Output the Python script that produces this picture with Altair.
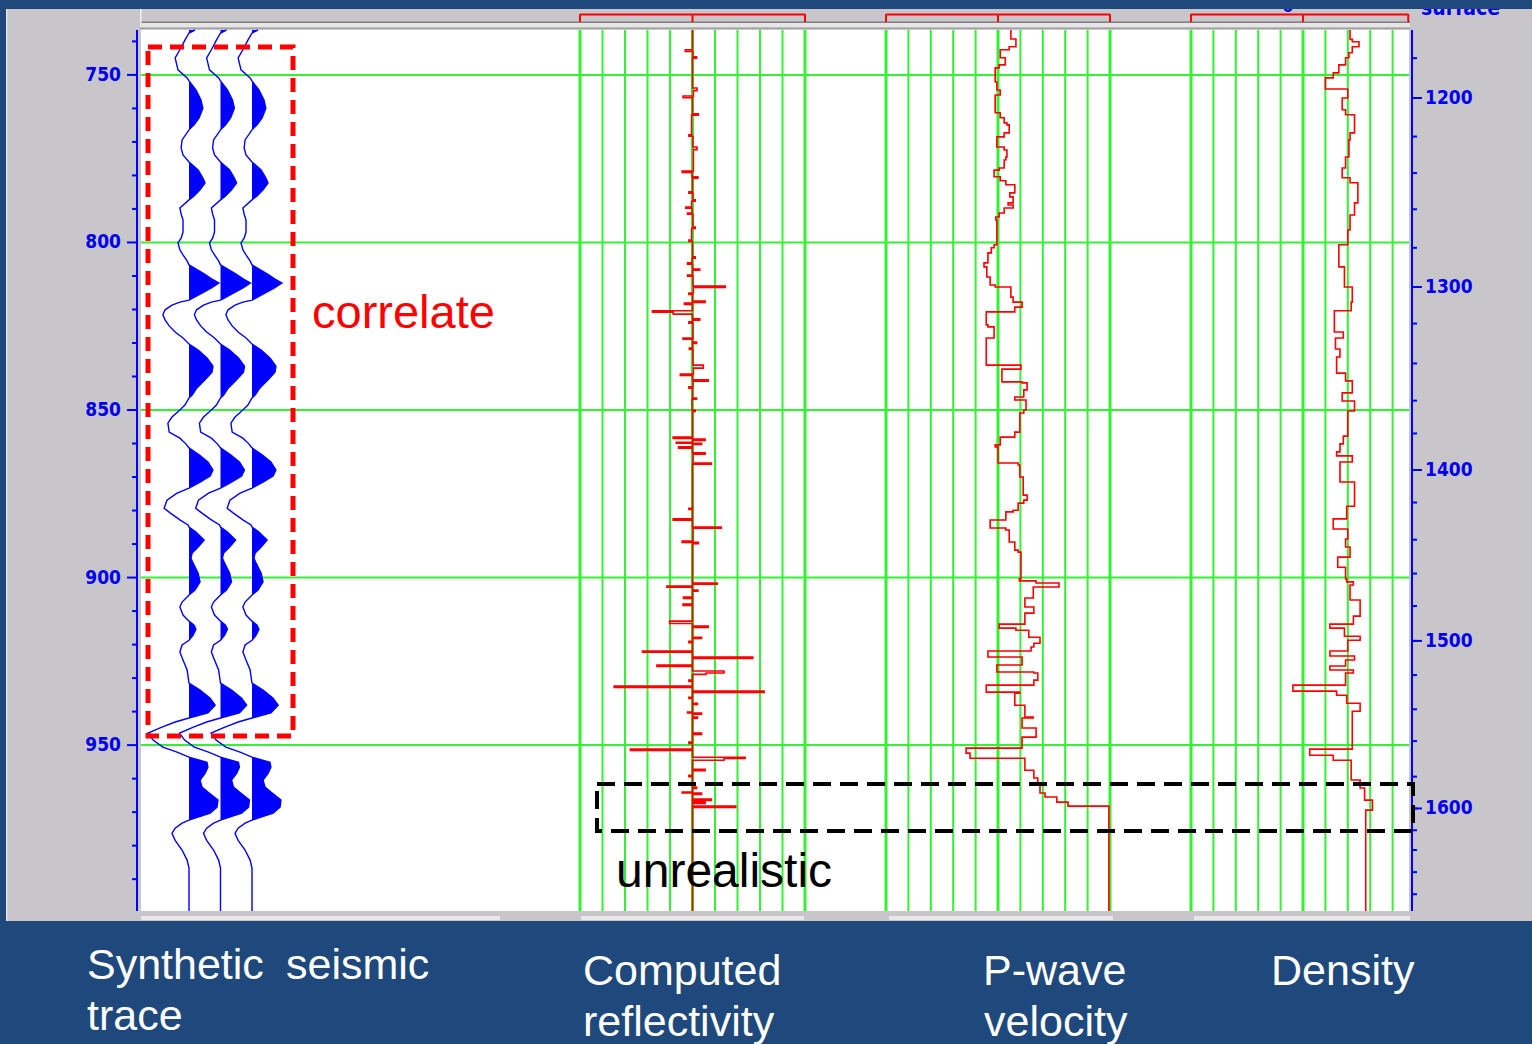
import altair as alt
import pandas as pd

# ------------------------------------------------------------------ data ---
# Synthetic seismic trace: two-way time (ms) and amplitude (1 = trace spacing)
seis_time = [
    736.6, 737.5, 739.6, 742.5, 744.9, 748.5, 750.9, 751.8, 754.5, 757.5,
    759.9, 762.8, 764.9, 766.4, 769.4, 771.8, 773.9, 776.0, 778.4, 780.8,
    782.2, 784.3, 786.1, 787.3, 789.7, 791.5, 793.3, 796.9, 798.7, 800.1,
    802.2, 803.7, 805.5, 806.7, 807.6, 809.4, 810.9, 812.1, 813.6, 815.4,
    816.9, 817.2, 817.8, 818.7, 820.1, 821.6, 823.1, 824.9, 826.7, 828.5,
    830.3, 832.1, 834.5, 836.9, 838.7, 841.0, 843.4, 845.5, 846.4, 848.5,
    850.0, 852.1, 853.9, 856.6, 858.4, 860.1, 861.3, 863.4, 865.5, 867.9,
    869.7, 871.5, 873.3, 874.8, 876.9, 879.3, 880.7, 882.8, 884.3, 884.9,
    886.4, 888.8, 890.9, 892.7, 894.2, 895.7, 898.7, 901.3, 903.7, 905.2,
    907.3, 908.8, 911.2, 913.0, 914.2, 915.4, 917.2, 918.7, 920.1, 922.2,
    924.6, 927.6, 931.5, 933.6, 936.0, 938.1, 940.4, 941.9, 943.1, 944.6,
    946.4, 948.5, 950.6, 952.1, 953.6, 955.1, 956.6, 958.4, 960.4, 962.5,
    964.0, 966.4, 968.5, 970.3, 971.8, 972.4, 973.3, 974.8, 976.3, 978.4,
    981.3, 984.3, 986.7, 999.5,
]
seis_amp = [
    0.19, 0.0, -0.13, -0.29, -0.44, -0.35, -0.06, 0.0, 0.22, 0.38,
    0.44, 0.32, 0.16, 0.0, -0.22, -0.25, -0.19, 0.0, 0.29, 0.44,
    0.51, 0.35, 0.16, 0.0, -0.29, -0.25, -0.19, -0.19, -0.25, -0.35,
    -0.29, -0.19, -0.06, 0.0, 0.16, 0.48, 0.73, 0.95, 0.70, 0.35,
    0.06, 0.0, -0.29, -0.54, -0.76, -0.83, -0.76, -0.63, -0.44, -0.19,
    0.0, 0.29, 0.57, 0.76, 0.73, 0.51, 0.25, 0.10, 0.0, -0.13,
    -0.29, -0.54, -0.67, -0.63, -0.29, -0.10, 0.0, 0.32, 0.60, 0.76,
    0.67, 0.35, 0.0, -0.38, -0.70, -0.79, -0.60, -0.29, -0.03, 0.0,
    0.22, 0.48, 0.29, 0.10, 0.06, 0.13, 0.29, 0.35, 0.19, 0.0,
    -0.22, -0.29, -0.19, 0.0, 0.16, 0.22, 0.13, 0.0, -0.22, -0.29,
    -0.19, -0.06, 0.0, 0.35, 0.67, 0.83, 0.60, 0.0, -0.44, -0.86,
    -1.30, -1.14, -0.83, -0.38, 0.0, 0.57, 0.60, 0.51, 0.35, 0.41,
    0.60, 0.92, 0.89, 0.67, 0.19, 0.0, -0.22, -0.44, -0.54, -0.44,
    -0.22, -0.06, 0.0, 0.0,
]
seis_traces = [0, 1, 2]

# Computed reflectivity, blocked: each coefficient holds from its time on
refl_time = [
    736.6, 742.5, 743.0, 744.6, 745.0, 753.9, 754.7, 756.3, 756.8, 761.6,
    762.0, 767.9, 768.3, 771.5, 772.3, 778.7, 779.1, 780.4, 780.8, 784.9,
    785.3, 787.3, 787.7, 789.4, 789.8, 791.2, 791.6, 795.4, 795.8, 799.3,
    799.7, 804.3, 804.7, 806.1, 806.5, 807.9, 808.3, 809.7, 810.1, 813.0,
    813.4, 815.1, 815.5, 817.5, 817.9, 818.1, 818.5, 820.4, 820.8, 821.4,
    822.8, 823.2, 823.7, 824.1, 828.5, 828.9, 829.7, 830.1, 831.5, 831.9,
    836.6, 837.5, 839.3, 839.7, 841.0, 841.4, 843.1, 843.5, 846.4, 846.8,
    850.0, 850.4, 858.1, 858.5, 858.7, 859.1, 859.6, 859.9, 860.3, 861.0,
    861.4, 862.8, 863.2, 865.8, 866.2, 879.3, 879.7, 882.5, 882.9, 884.9,
    885.3, 889.1, 889.5, 889.9, 901.6, 902.0, 902.5, 902.9, 903.7, 904.1,
    905.8, 906.2, 907.9, 908.3, 913.0, 913.7, 914.5, 914.9, 917.8, 918.2,
    919.0, 919.4, 921.9, 922.3, 923.7, 924.1, 926.1, 926.5, 927.9, 928.5,
    928.9, 930.6, 931.0, 932.4, 932.8, 933.9, 934.3, 935.7, 936.1, 937.5,
    937.9, 940.1, 940.4, 940.8, 941.6, 942.0, 946.4, 946.8, 949.1, 949.5,
    951.2, 951.6, 953.6, 954.0, 954.5, 957.2, 957.6, 959.0, 959.4, 962.5,
    962.9, 964.0, 964.3, 964.7, 966.1, 966.5, 967.0, 967.4, 968.2, 968.6,
    999.5,
]
refl_coef = [
    0.000, -0.016, 0.001, 0.009, 0.000, 0.010, 0.002, -0.021, 0.000, 0.013,
    -0.002, -0.008, 0.001, 0.010, 0.002, -0.023, -0.001, 0.012, 0.000, -0.008,
    0.001, 0.006, -0.002, -0.015, -0.001, -0.011, 0.001, 0.006, -0.002, -0.008,
    0.000, 0.006, -0.001, -0.011, 0.000, 0.016, 0.000, -0.011, 0.001, 0.073,
    0.002, -0.008, 0.000, 0.028, 0.000, -0.018, 0.000, -0.089, -0.043, 0.000,
    0.016, 0.000, -0.008, 0.001, -0.021, 0.000, 0.009, 0.000, -0.007, 0.001,
    0.024, 0.002, -0.027, 0.000, 0.035, 0.001, -0.008, 0.000, 0.009, -0.001,
    0.006, 0.000, -0.043, 0.000, 0.028, 0.000, -0.036, 0.020, 0.000, -0.031,
    0.000, 0.028, 0.001, 0.042, 0.000, -0.008, 0.000, -0.043, 0.000, 0.064,
    0.001, -0.023, 0.013, 0.000, 0.055, 0.000, -0.057, 0.000, 0.012, 0.000,
    -0.020, 0.000, -0.021, 0.000, -0.051, 0.000, 0.035, 0.000, 0.020, 0.000,
    -0.008, 0.000, -0.111, 0.000, 0.134, 0.000, -0.079, 0.000, 0.070, 0.030,
    0.000, -0.008, 0.000, -0.174, 0.000, 0.159, 0.000, -0.008, 0.000, 0.011,
    0.000, -0.011, 0.020, 0.000, 0.011, 0.000, 0.020, 0.000, -0.008, 0.000,
    -0.138, 0.000, 0.117, 0.070, 0.000, 0.028, 0.000, -0.008, 0.000, 0.009,
    0.000, -0.023, 0.020, 0.000, 0.042, 0.000, 0.028, 0.000, 0.096, 0.000,
    0.000,
]

# P-wave velocity log (m/s), blocked
vel_time = [
    736.6, 739.3, 741.6, 742.5, 744.9, 747.0, 747.9, 752.1, 754.5, 756.0,
    761.3, 762.8, 764.3, 764.9, 767.3, 768.5, 771.5, 772.4, 774.5, 775.4,
    777.8, 778.4, 780.4, 781.6, 782.8, 785.2, 786.4, 788.2, 788.8, 789.7,
    791.2, 792.4, 793.3, 800.7, 801.6, 803.1, 806.1, 807.3, 810.3, 812.7,
    813.3, 816.3, 817.8, 819.3, 820.7, 824.6, 825.2, 828.5, 836.6, 837.8,
    841.6, 841.9, 844.0, 846.1, 847.0, 850.0, 850.9, 856.6, 858.1, 860.4,
    861.0, 865.8, 866.4, 870.0, 875.4, 876.9, 877.8, 879.9, 880.4, 882.8,
    885.2, 885.8, 889.4, 891.8, 892.4, 900.4, 901.0, 901.6, 902.8, 906.1,
    908.8, 910.6, 913.9, 915.1, 915.7, 917.8, 919.6, 920.7, 921.9, 923.7,
    926.1, 928.2, 928.5, 930.6, 932.1, 934.2, 934.5, 938.1, 941.6, 941.9,
    944.9, 947.6, 950.9, 952.4, 953.9, 957.5, 959.8, 961.3, 964.3, 965.5,
    967.0, 968.2, 999.5,
]
vel_mps = [
    4230, 4320, 4200, 4040, 4130, 4020, 3950, 3980, 4040, 3950,
    4040, 4110, 4160, 4200, 4110, 3980, 4110, 4160, 4140, 4110,
    4020, 3930, 4040, 4140, 4300, 4210, 4270, 4180, 4270, 4110,
    4020, 3960, 3980, 3930, 3880, 3820, 3750, 3800, 3860, 3950,
    4230, 4270, 4430, 4300, 3790, 3820, 3930, 3790, 4410, 4070,
    4430, 4520, 4460, 4300, 4500, 4460, 4390, 4300, 4040, 3950,
    4000, 4360, 4390, 4450, 4520, 4460, 4360, 4270, 4140, 3860,
    4140, 4200, 4300, 4360, 4410, 4380, 4680, 5090, 4630, 4480,
    4640, 4480, 4020, 4320, 4550, 4750, 4640, 4590, 3820, 4430,
    3980, 4640, 4710, 4640, 3790, 4390, 4300, 4480, 4630, 4430,
    4680, 4430, 3430, 3500, 4480, 4640, 4710, 4750, 4840, 5050,
    5250, 5980, 5980,
]

# Bulk density log (g/cc), blocked
dens_time = [
    736.6, 739.4, 740.1, 741.6, 743.4, 744.9, 747.0, 749.4, 750.9, 754.2,
    756.9, 760.4, 761.9, 767.3, 769.4, 774.5, 777.8, 780.7, 782.2, 788.2,
    791.8, 796.3, 800.7, 807.3, 813.3, 817.8, 820.4, 826.7, 828.5, 831.8,
    834.2, 839.0, 841.3, 844.9, 847.3, 850.3, 857.8, 860.1, 862.5, 863.7,
    865.5, 871.5, 878.7, 882.5, 885.5, 888.5, 890.9, 893.9, 896.9, 900.4,
    901.3, 902.2, 906.7, 911.5, 913.9, 915.1, 917.5, 918.7, 921.9, 923.4,
    924.6, 926.4, 927.6, 928.5, 932.1, 933.9, 935.1, 937.5, 939.9, 951.2,
    953.0, 954.5, 960.4, 962.8, 966.4, 969.4, 999.5,
]
dens_gcc = [
    2.66, 2.67, 2.70, 2.67, 2.655, 2.64, 2.61, 2.585, 2.55, 2.65,
    2.625, 2.64, 2.68, 2.66, 2.655, 2.64, 2.625, 2.66, 2.695, 2.68,
    2.66, 2.65, 2.61, 2.635, 2.67, 2.665, 2.59, 2.63, 2.595, 2.615,
    2.60, 2.64, 2.67, 2.625, 2.68, 2.65, 2.63, 2.615, 2.60, 2.67,
    2.615, 2.68, 2.645, 2.585, 2.65, 2.64, 2.66, 2.605, 2.64, 2.645,
    2.675, 2.66, 2.705, 2.675, 2.57, 2.635, 2.705, 2.65, 2.57, 2.68,
    2.64, 2.57, 2.675, 2.64, 2.405, 2.60, 2.645, 2.705, 2.67, 2.48,
    2.585, 2.665, 2.705, 2.725, 2.76, 2.73, 2.73,
]

# Time axis ticks (ms)
time_major = [750, 800, 850, 900, 950]
time_minor = [740, 760, 770, 780, 790, 810, 820, 830, 840, 860, 870,
              880, 890, 910, 920, 930, 940, 960, 970, 980, 990]

# Depth (m) against two-way time (ms) for the right-hand depth scale
depth_m = [1180, 1200, 1220, 1240, 1260, 1280, 1300, 1320, 1340, 1360,
           1380, 1400, 1420, 1440, 1460, 1480, 1500, 1520, 1540, 1560,
           1580, 1600, 1620, 1640, 1660, 1680]
depth_time = [745.0, 756.9, 768.4, 779.3, 790.1, 801.6, 813.3, 824.2, 836.1, 847.2,
              857.0, 867.9, 877.6, 888.7, 898.8, 908.5, 918.9, 929.1, 939.3, 948.8,
              959.4, 968.9, 975.4, 981.3, 987.9, 994.5]

# Track grid lines (edges and centre drawn heavier)
refl_grid = [-0.25, -0.20, -0.15, -0.10, -0.05, 0.0, 0.05, 0.10, 0.15, 0.20, 0.25]
vel_grid = [2000, 2400, 2800, 3200, 3600, 4000, 4400, 4800, 5200, 5600, 6000]
dens_grid = [1.95, 2.05, 2.15, 2.25, 2.35, 2.45, 2.55, 2.65, 2.75, 2.85]

# --------------------------------------------------------------- layout ---
PL, PT = 141, 30        # plot origin on the page
PW, PH = 1268, 881      # plot size
PAGE_W, PAGE_H = 1532, 1044


def px(x):
    return x - PL


def py(y):
    return y - PT


NAVY = "#1f497d"
FRAME = "#c8c6cb"
GREEN = "#33f233"
RED = "#ff0000"
BLUE = "#0000ff"
LABEL_BLUE = "#0000ee"
AXIS_FONT = "DejaVu Sans Condensed, Liberation Sans Narrow, sans-serif"
AXIS_SIZE = 19
TEXT_FONT = "Liberation Sans, Arial, Helvetica, sans-serif"

one = alt.Data(values=[{"k": 0}])

T_SCALE = alt.Scale(domain=[736.6, 999.5], reverse=True, nice=False, zero=False)

TRACKS = {
    "seis": dict(domain=[0, 1], range=[px(189), px(220.5)]),
    "refl": dict(domain=[-0.25, 0.25], range=[px(580), px(805)]),
    "vel": dict(domain=[2000, 6000], range=[px(886), px(1110)]),
    "dens": dict(domain=[1.95, 2.95], range=[px(1191), px(1415)]),
}


def ty(field="t:Q"):
    return alt.Y(field, scale=T_SCALE, axis=None)


def tx(track, field="x:Q"):
    d = TRACKS[track]
    return alt.X(field, axis=None,
                 scale=alt.Scale(domain=d["domain"], range=d["range"], nice=False, zero=False))


def box(x1, y1, x2, y2, color):
    return alt.Chart(one).mark_rect(color=color).encode(
        x=alt.value(px(x1)), x2=alt.value(px(x2)), y=alt.value(py(y1)), y2=alt.value(py(y2)))


def dashed_box(x1, y1, x2, y2, color, width, dash):
    return alt.Chart(one).mark_rect(filled=False, color=color, strokeWidth=width,
                                    strokeDash=dash).encode(
        x=alt.value(px(x1)), x2=alt.value(px(x2)), y=alt.value(py(y1)), y2=alt.value(py(y2)))


def label(text, x, y, size, color, font=TEXT_FONT, weight="normal", align="left"):
    return alt.Chart(one).mark_text(text=text, fontSize=size, font=font, fontWeight=weight,
                                    color=color, align=align, baseline="alphabetic").encode(
        x=alt.value(px(x)), y=alt.value(py(y)))


def grid_layer(track, values):
    df = pd.DataFrame({"x": values,
                       "w": [3 if i in (0, 5, 10) else 2 for i in range(len(values))]})
    return alt.Chart(df).mark_rule(color=GREEN).encode(
        x=tx(track), strokeWidth=alt.StrokeWidth("w:Q", scale=None))


def log_layer(track, times, values):
    df = pd.DataFrame({"t": times, "x": values})
    return alt.Chart(df).mark_line(color=RED, strokeWidth=1.6, interpolate="step-before",
                                   clip=True).encode(
        x=tx(track), y=ty(), order=alt.Order("t:Q"))


def bracket(track, lo, mid, hi):
    ticks = alt.Chart(pd.DataFrame({"x": [lo, mid, hi]})).mark_rule(
        color=RED, strokeWidth=2).encode(x=tx(track), y=alt.value(py(14)), y2=alt.value(py(22)))
    bar = alt.Chart(pd.DataFrame({"x": [lo], "x2": [hi]})).mark_rule(
        color=RED, strokeWidth=2).encode(x=tx(track), x2="x2:Q", y=alt.value(py(14.5)))
    return [ticks, bar]


def tick_rules(df, x1, x2):
    return alt.Chart(df).mark_rule(color=BLUE, strokeWidth=2).encode(
        y=ty(), x=alt.value(px(x1)), x2=alt.value(px(x2)))


def tick_labels(df, x, align, field):
    return alt.Chart(df).mark_text(
        align=align, baseline="middle", font=AXIS_FONT, fontSize=AXIS_SIZE, fontWeight="bold",
        color=LABEL_BLUE).encode(y=ty(), x=alt.value(px(x)), text=alt.Text(field, format="d"))


# seismic wiggle table: each trace drawn with its own offset
rows = []
for k in seis_traces:
    for t, a in zip(seis_time, seis_amp):
        rows.append({"trace": k, "t": t, "x": a + k, "fill": max(a, 0.0) + k, "base": k})
seis_df = pd.DataFrame(rows)

major_df = pd.DataFrame({"t": time_major})
minor_df = pd.DataFrame({"t": time_minor})
depth_df = pd.DataFrame({"d": depth_m, "t": depth_time})
depth_major_df = depth_df[depth_df["d"] % 100 == 0]

layers = [
    # window frame and header
    box(6, 9, PAGE_W, 921, FRAME),
    box(6, 9, 7.5, 921, "#e2e2e2"),
    box(140, 21.5, 1410, 23, "#7d7d7d"),
    box(140, 23, 1410, 27.5, "#e6e6e6"),
    box(140, 27.5, 1410, 29, "#a2a2a2"),
    box(140, 9, 141.5, 23, "#efefef"),
    box(141, 30, 1409, 911, "white"),
    box(141, 916, 500, 920, "#e8e8e8"),
    box(581, 916, 804, 920, "#e8e8e8"),
    box(889, 916, 1113, 920, "#e8e8e8"),
    box(1194, 916, 1410, 920, "#e8e8e8"),
    # time grid
    alt.Chart(major_df).mark_rule(color=GREEN, strokeWidth=2).encode(y=ty()),
    # left time scale
    alt.Chart(one).mark_rule(color=BLUE, strokeWidth=2).encode(
        x=alt.value(px(137)), y=alt.value(0), y2=alt.value(PH)),
    tick_rules(major_df, 127, 137),
    tick_rules(minor_df, 132, 137),
    tick_labels(major_df, 121, "right", "t:Q"),
    # track grids
    grid_layer("refl", refl_grid),
    grid_layer("vel", vel_grid),
    grid_layer("dens", dens_grid),
    # synthetic seismic traces
    alt.Chart(seis_df).mark_area(orient="horizontal", color=BLUE, opacity=1).encode(
        x=tx("seis", "fill:Q"), x2="base:Q", y=ty(), detail="trace:N"),
    alt.Chart(seis_df).mark_line(color=BLUE, strokeWidth=1.4).encode(
        x=tx("seis", "x:Q"), y=ty(), detail="trace:N", order=alt.Order("t:Q")),
    # logs
    log_layer("refl", refl_time, refl_coef),
    log_layer("vel", vel_time, vel_mps),
    log_layer("dens", dens_time, dens_gcc),
]

layers += bracket("refl", -0.25, 0.0, 0.25)
layers += bracket("vel", 2000, 4000, 6000)
layers += bracket("dens", 1.95, 2.45, 2.92)

layers += [
    # right-hand depth scale
    alt.Chart(one).mark_rule(color=BLUE, strokeWidth=2).encode(
        x=alt.value(px(1412)), y=alt.value(0), y2=alt.value(PH)),
    tick_rules(depth_df, 1412, 1417),
    tick_rules(depth_major_df, 1412, 1422),
    tick_labels(depth_major_df, 1425, "left", "d:Q"),
    # annotations
    dashed_box(148, 47, 293, 736, RED, 5, [14, 8]),
    label("correlate", 312, 328, 47, RED),
    dashed_box(597, 784, 1413, 831, "black", 4, [18, 9]),
    label("unrealistic", 616, 887, 48, "black"),
    # header texts running off the top edge
    label("surface", 1421, 15, AXIS_SIZE + 2, LABEL_BLUE, font=AXIS_FONT, weight="bold"),
    label("0", 1288, 12, 18, LABEL_BLUE, font=AXIS_FONT, weight="bold", align="center"),
    box(0, 0, PAGE_W, 9, NAVY),
    # track titles
    label("Synthetic", 87, 979, 43, "white"),
    label("seismic", 286, 979, 43, "white"),
    label("trace", 87, 1030, 43, "white"),
    label("Computed", 583, 985, 43, "white"),
    label("reflectivity", 583, 1036, 43, "white"),
    label("P-wave", 983, 985, 43, "white"),
    label("velocity", 984, 1036, 43, "white"),
    label("Density", 1271, 985, 43, "white"),
]

chart = alt.layer(*layers).resolve_scale(x="independent").properties(
    width=PW,
    height=PH,
    autosize=alt.AutoSizeParams(type="none"),
    padding={"left": PL, "top": PT, "right": PAGE_W - PL - PW, "bottom": PAGE_H - PT - PH},
    background=NAVY,
).configure_view(strokeWidth=0)

chart.save("out.html", embed_options={"renderer": "svg", "actions": False})
